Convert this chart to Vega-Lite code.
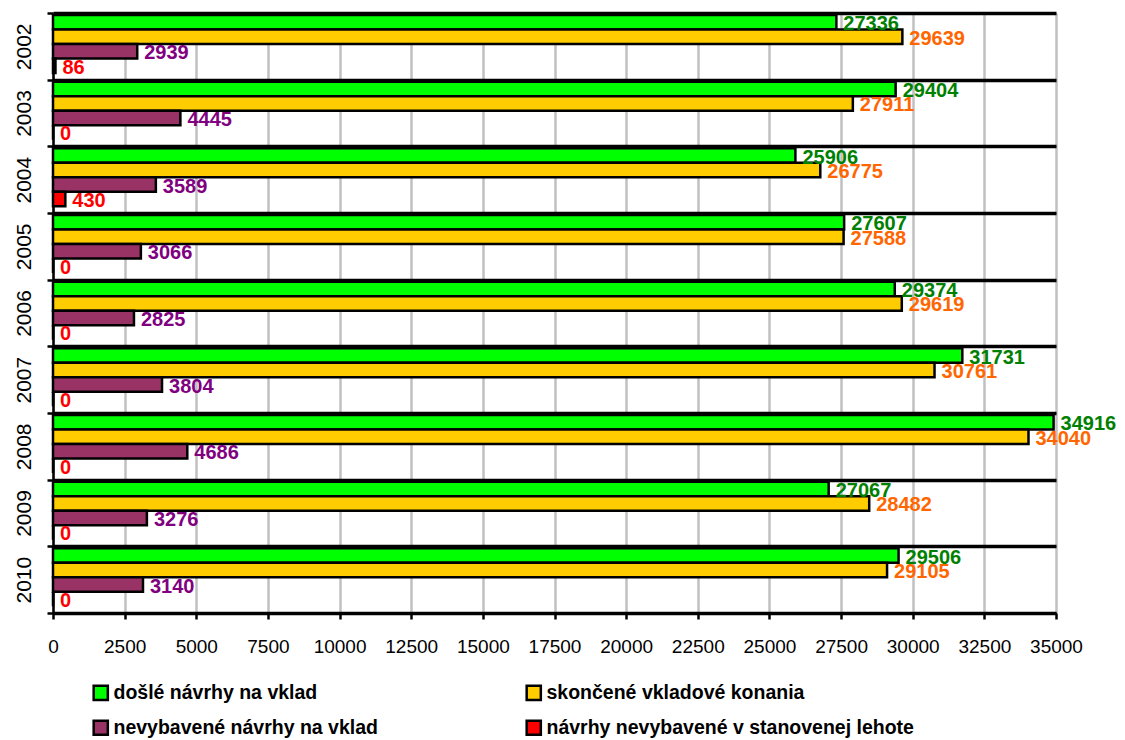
{
  "$schema": "https://vega.github.io/schema/vega-lite/v6.json",
  "description": "Vklady do katastra 2002-2010: došlé, skončené a nevybavené návrhy.",
  "autosize": {"type": "none"},
  "padding": {"left": 53, "top": 13, "right": 69, "bottom": 127},
  "width": 1003,
  "height": 600,
  "background": "white",
  "config": {
    "view": {"stroke": null},
    "font": "Liberation Sans"
  },
  "data": {
    "values": [
      {"year": "2002", "series": "došlé návrhy na vklad", "value": 27336},
      {"year": "2002", "series": "skončené vkladové konania", "value": 29639},
      {"year": "2002", "series": "nevybavené návrhy na vklad", "value": 2939},
      {"year": "2002", "series": "návrhy nevybavené v stanovenej lehote", "value": 86},
      {"year": "2003", "series": "došlé návrhy na vklad", "value": 29404},
      {"year": "2003", "series": "skončené vkladové konania", "value": 27911},
      {"year": "2003", "series": "nevybavené návrhy na vklad", "value": 4445},
      {"year": "2003", "series": "návrhy nevybavené v stanovenej lehote", "value": 0},
      {"year": "2004", "series": "došlé návrhy na vklad", "value": 25906},
      {"year": "2004", "series": "skončené vkladové konania", "value": 26775},
      {"year": "2004", "series": "nevybavené návrhy na vklad", "value": 3589},
      {"year": "2004", "series": "návrhy nevybavené v stanovenej lehote", "value": 430},
      {"year": "2005", "series": "došlé návrhy na vklad", "value": 27607},
      {"year": "2005", "series": "skončené vkladové konania", "value": 27588},
      {"year": "2005", "series": "nevybavené návrhy na vklad", "value": 3066},
      {"year": "2005", "series": "návrhy nevybavené v stanovenej lehote", "value": 0},
      {"year": "2006", "series": "došlé návrhy na vklad", "value": 29374},
      {"year": "2006", "series": "skončené vkladové konania", "value": 29619},
      {"year": "2006", "series": "nevybavené návrhy na vklad", "value": 2825},
      {"year": "2006", "series": "návrhy nevybavené v stanovenej lehote", "value": 0},
      {"year": "2007", "series": "došlé návrhy na vklad", "value": 31731},
      {"year": "2007", "series": "skončené vkladové konania", "value": 30761},
      {"year": "2007", "series": "nevybavené návrhy na vklad", "value": 3804},
      {"year": "2007", "series": "návrhy nevybavené v stanovenej lehote", "value": 0},
      {"year": "2008", "series": "došlé návrhy na vklad", "value": 34916},
      {"year": "2008", "series": "skončené vkladové konania", "value": 34040},
      {"year": "2008", "series": "nevybavené návrhy na vklad", "value": 4686},
      {"year": "2008", "series": "návrhy nevybavené v stanovenej lehote", "value": 0},
      {"year": "2009", "series": "došlé návrhy na vklad", "value": 27067},
      {"year": "2009", "series": "skončené vkladové konania", "value": 28482},
      {"year": "2009", "series": "nevybavené návrhy na vklad", "value": 3276},
      {"year": "2009", "series": "návrhy nevybavené v stanovenej lehote", "value": 0},
      {"year": "2010", "series": "došlé návrhy na vklad", "value": 29506},
      {"year": "2010", "series": "skončené vkladové konania", "value": 29105},
      {"year": "2010", "series": "nevybavené návrhy na vklad", "value": 3140},
      {"year": "2010", "series": "návrhy nevybavené v stanovenej lehote", "value": 0}
    ]
  },
  "encoding": {
    "y": {
      "field": "year",
      "type": "nominal",
      "scale": {"paddingInner": 0, "paddingOuter": 0},
      "axis": {
        "title": null,
        "tickBand": "extent",
        "domainColor": "black",
        "domainWidth": 2.5,
        "tickColor": "black",
        "tickWidth": 2.5,
        "tickSize": 6,
        "grid": true,
        "gridColor": "black",
        "gridWidth": 3.5,
        "labelAngle": 270,
        "labelFont": "Liberation Sans",
        "labelFontSize": 21,
        "labelColor": "black",
        "labelPadding": 13
      }
    },
    "yOffset": {
      "field": "series",
      "type": "nominal",
      "scale": {
        "domain": ["došlé návrhy na vklad", "skončené vkladové konania", "nevybavené návrhy na vklad", "návrhy nevybavené v stanovenej lehote"],
        "range": [2, 60],
        "paddingInner": 0,
        "paddingOuter": 0
      }
    },
    "x": {
      "field": "value",
      "type": "quantitative",
      "scale": {"domain": [0, 35000], "nice": false},
      "axis": {
        "title": null,
        "values": [0, 2500, 5000, 7500, 10000, 12500, 15000, 17500, 20000, 22500, 25000, 27500, 30000, 32500, 35000],
        "format": "d",
        "labelFlush": false,
        "domainColor": "black",
        "domainWidth": 2.5,
        "tickColor": "black",
        "tickWidth": 2.5,
        "tickSize": 6,
        "grid": true,
        "gridColor": "#C0C0C0",
        "gridWidth": 2.5,
        "labelFont": "Liberation Sans",
        "labelFontSize": 19,
        "labelColor": "black",
        "labelPadding": 18
      }
    }
  },
  "layer": [
    {
      "mark": {"type": "bar", "stroke": "black", "strokeWidth": 2.5},
      "encoding": {
        "color": {
          "field": "series",
          "type": "nominal",
          "scale": {
            "domain": ["došlé návrhy na vklad", "skončené vkladové konania", "nevybavené návrhy na vklad", "návrhy nevybavené v stanovenej lehote"],
            "range": ["#00FF00", "#FFCC00", "#993366", "#FF0000"]
          },
          "legend": {
            "title": null,
            "orient": "none",
            "legendX": 38,
            "legendY": 670,
            "columns": 2,
            "direction": "horizontal",
            "padding": 0,
            "columnPadding": 143,
            "rowPadding": 10,
            "symbolType": "square",
            "symbolSize": 200,
            "symbolStrokeColor": "black",
            "symbolStrokeWidth": 2.5,
            "labelOffset": 3,
            "labelFont": "Liberation Sans",
            "labelFontWeight": "bold",
            "labelFontSize": 19.5,
            "labelColor": "black",
            "labelLimit": 500
          }
        }
      }
    },
    {
      "mark": {
        "type": "text",
        "align": "left",
        "baseline": "middle",
        "dx": 7,
        "dy": 2,
        "font": "Liberation Sans",
        "fontWeight": "bold",
        "fontSize": 20
      },
      "encoding": {
        "text": {"field": "value", "type": "quantitative", "format": "d"},
        "color": {
          "field": "series",
          "type": "nominal",
          "scale": {
            "domain": ["došlé návrhy na vklad", "skončené vkladové konania", "nevybavené návrhy na vklad", "návrhy nevybavené v stanovenej lehote"],
            "range": ["#008000", "#FF6600", "#800080", "#FF0000"]
          },
          "legend": null
        }
      }
    }
  ],
  "resolve": {"scale": {"color": "independent"}}
}
